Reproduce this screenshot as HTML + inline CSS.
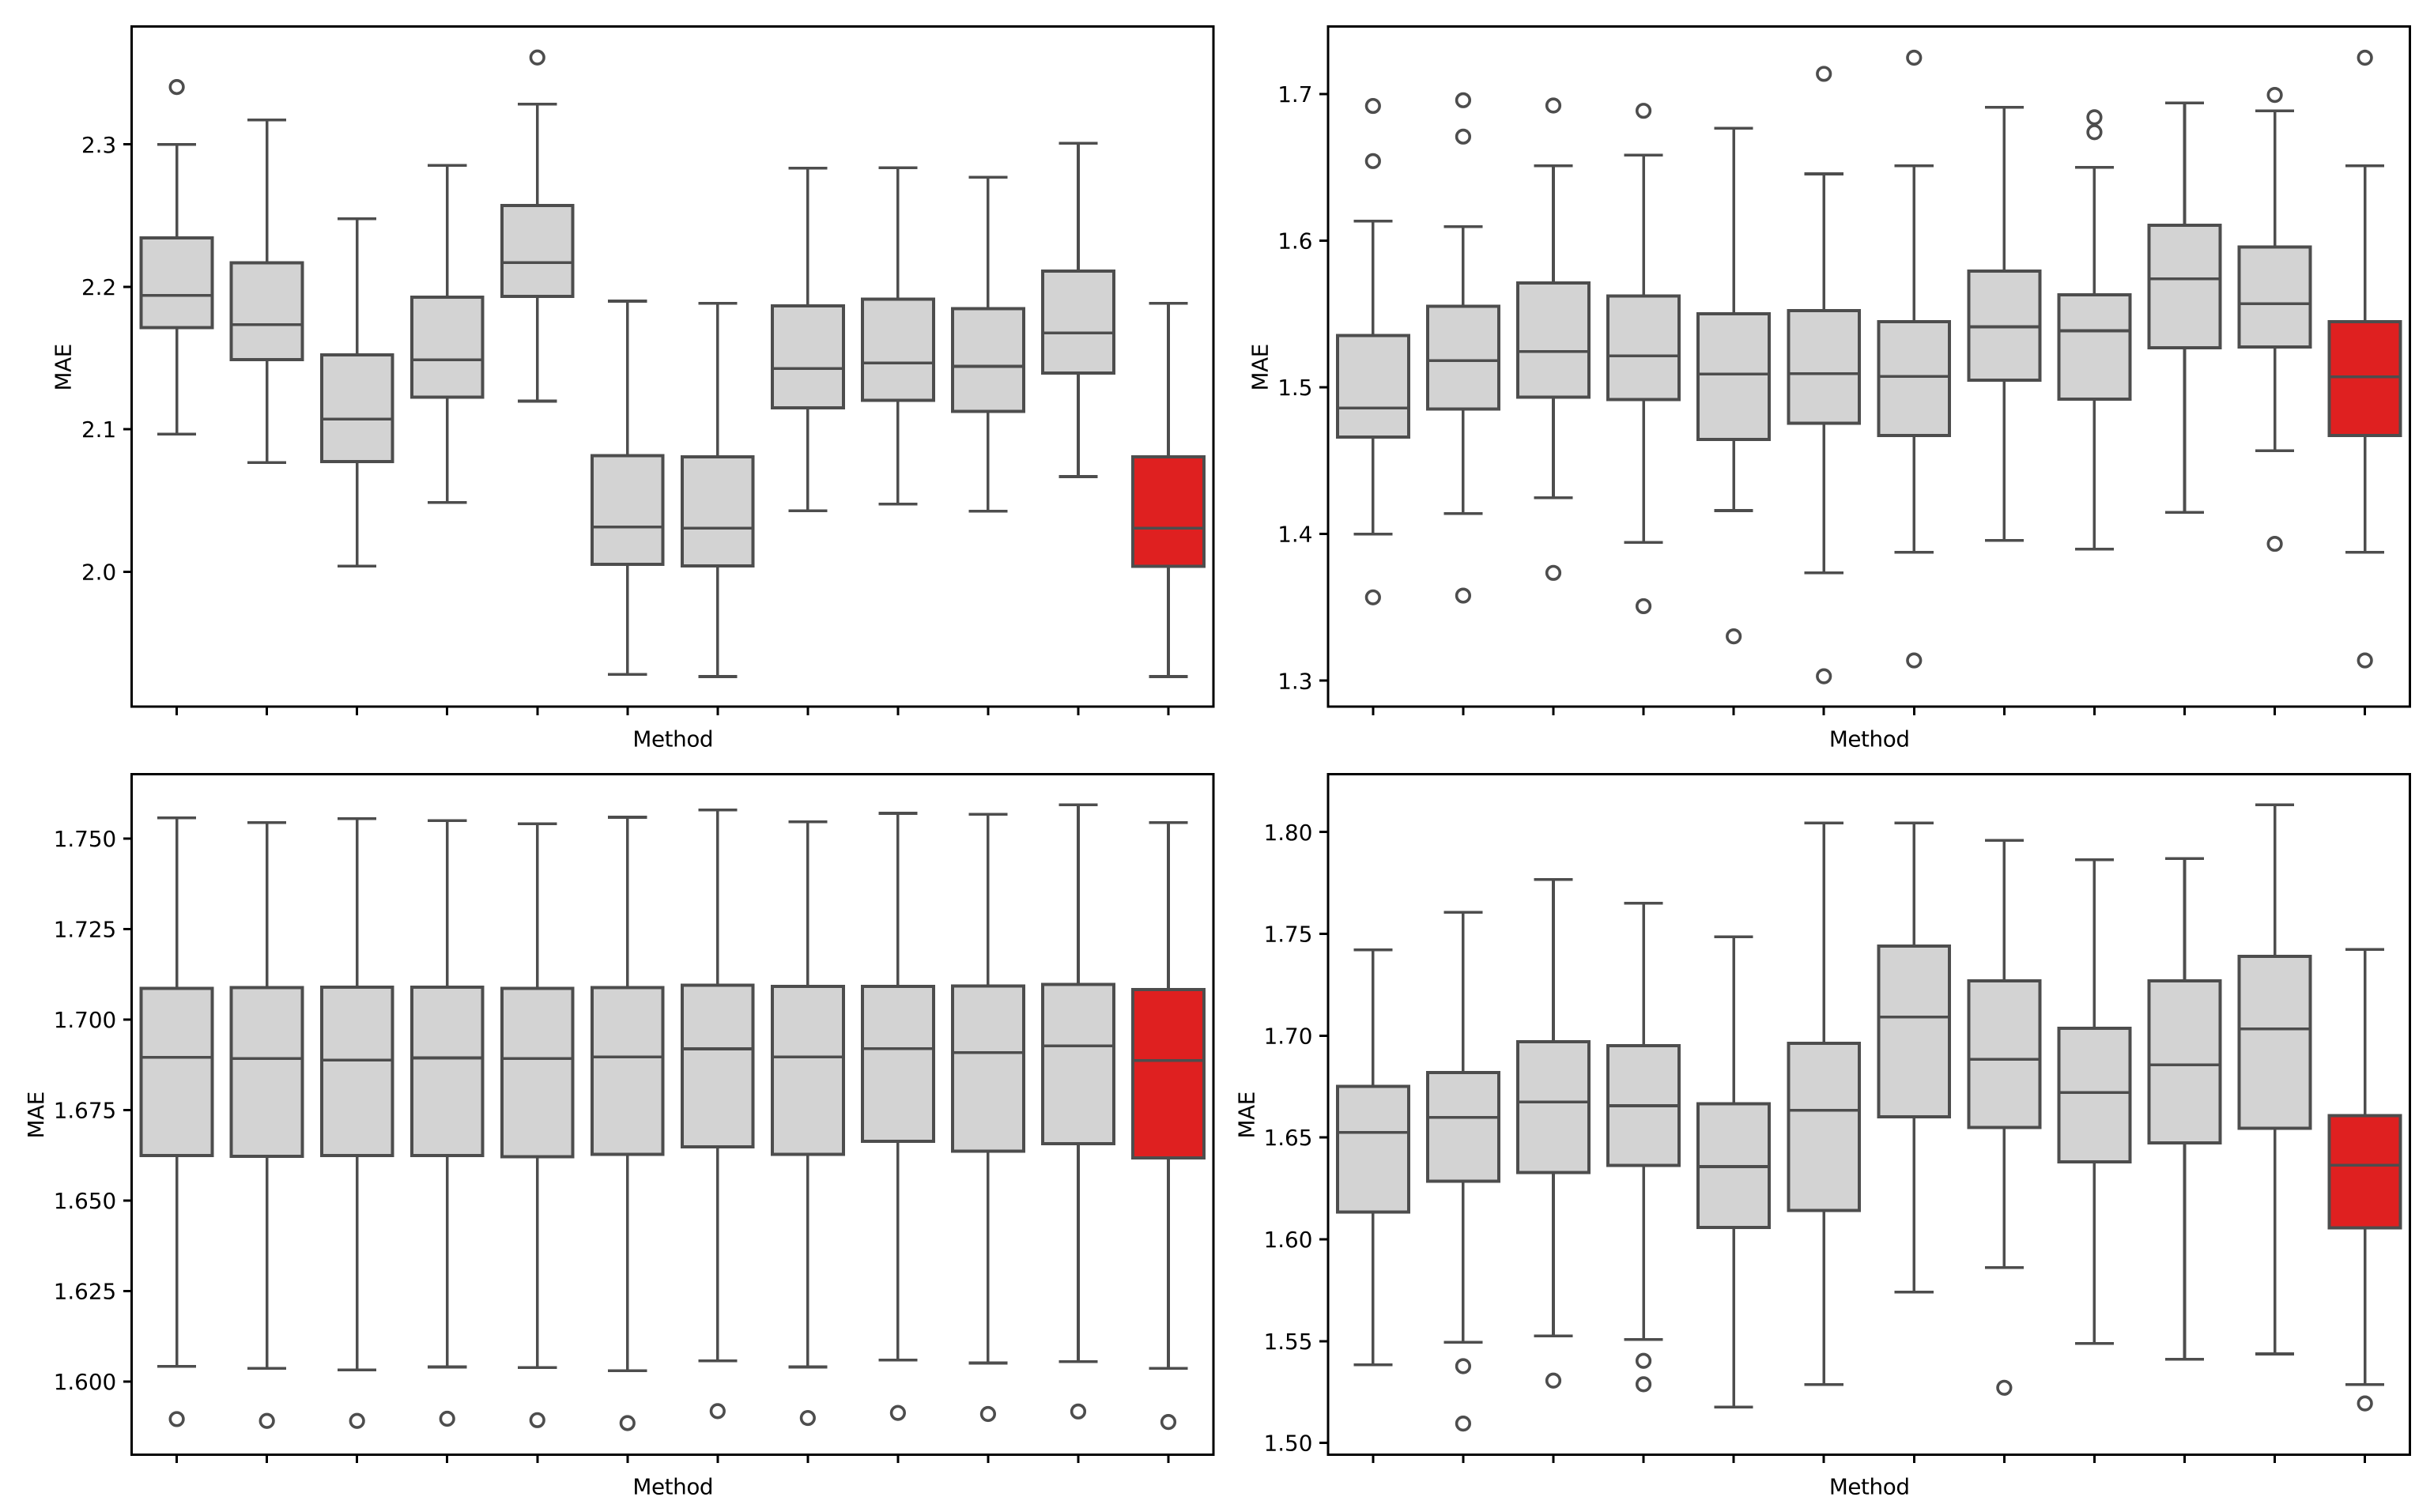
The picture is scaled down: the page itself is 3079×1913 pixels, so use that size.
<!DOCTYPE html>
<html lang="en">
<head>
<meta charset="utf-8">
<title>MAE by Method box plots</title>
<style>
  html, body { margin: 0; padding: 0; background: #ffffff; }
  svg { display: block; }
  text { font-family: "DejaVu Sans", "Liberation Sans", sans-serif; font-size: 27.78px; fill: #000000; }
  .axis-title { letter-spacing: -0.4px; }
</style>
</head>
<body>
<svg id="figure" xmlns="http://www.w3.org/2000/svg" width="3079" height="1913" viewBox="0 0 3079 1913">
  <rect x="0" y="0" width="3079" height="1913" fill="#ffffff"></rect>
  <g id="panel-1">
    <text class="axis-title" x="851.3" y="944.5" text-anchor="middle">Method</text>
    <text class="axis-title" transform="translate(89.5 464.8) rotate(-90)" text-anchor="middle">MAE</text>
  </g>
  <g id="panel-2">
    <text class="axis-title" x="2364.7" y="944.5" text-anchor="middle">Method</text>
    <text class="axis-title" transform="translate(1603.5 464.8) rotate(-90)" text-anchor="middle">MAE</text>
  </g>
  <g id="panel-3">
    <text class="axis-title" x="851.3" y="1890.5" text-anchor="middle">Method</text>
    <text class="axis-title" transform="translate(55 1410.8) rotate(-90)" text-anchor="middle">MAE</text>
  </g>
  <g id="panel-4">
    <text class="axis-title" x="2364.7" y="1890.5" text-anchor="middle">Method</text>
    <text class="axis-title" transform="translate(1586.5 1410.8) rotate(-90)" text-anchor="middle">MAE</text>
  </g>
</svg>
<script>
// ---- Chart data ----
const methods = [1, 2, 3, 4, 5, 6, 7, 8, 9, 10, 11, 12];
const highlightedMethod = 12;

// Top-left panel
const panel1TickLabels = ['2.0', '2.1', '2.2', '2.3'];
const panel1Limits = [1.9052, 2.3828];
const panel1WhiskerLow = [2.0967, 2.0767, 2.0040, 2.0487, 2.1198, 1.9279, 1.9264, 2.0428, 2.0474, 2.0425, 2.0668, 1.9264];
const panel1Q1 = [2.1713, 2.1488, 2.0773, 2.1226, 2.1934, 2.0052, 2.0040, 2.1152, 2.1204, 2.1127, 2.1395, 2.0037];
const panel1Median = [2.1940, 2.1734, 2.1072, 2.1488, 2.2171, 2.0314, 2.0305, 2.1426, 2.1466, 2.1442, 2.1676, 2.0305];
const panel1Q3 = [2.2344, 2.2168, 2.1522, 2.1928, 2.2572, 2.0816, 2.0807, 2.1867, 2.1913, 2.1848, 2.2110, 2.0807];
const panel1WhiskerHigh = [2.3000, 2.3172, 2.2479, 2.2852, 2.3283, 2.1900, 2.1885, 2.2834, 2.2837, 2.2769, 2.3009, 2.1885];
const panel1Outliers = [[2.3403], [], [], [], [2.3610], [], [], [], [], [], [], []];

// Top-right panel
const panel2TickLabels = ['1.3', '1.4', '1.5', '1.6', '1.7'];
const panel2Limits = [1.2822, 1.7461];
const panel2WhiskerLow = [1.3999, 1.4139, 1.4247, 1.3942, 1.4160, 1.3735, 1.3876, 1.3957, 1.3897, 1.4148, 1.4567, 1.3876];
const panel2Q1 = [1.4662, 1.4851, 1.4934, 1.4916, 1.4644, 1.4755, 1.4671, 1.5048, 1.4919, 1.5269, 1.5275, 1.4671];
const panel2Median = [1.4859, 1.5182, 1.5245, 1.5215, 1.5090, 1.5093, 1.5075, 1.5413, 1.5386, 1.5741, 1.5571, 1.5072];
const panel2Q3 = [1.5353, 1.5553, 1.5712, 1.5622, 1.5502, 1.5523, 1.5448, 1.5792, 1.5631, 1.6106, 1.5957, 1.5448];
const panel2WhiskerHigh = [1.6133, 1.6097, 1.6510, 1.6584, 1.6767, 1.6456, 1.6510, 1.6910, 1.6501, 1.6940, 1.6886, 1.6510];
const panel2Outliers = [
  [1.6919, 1.6543, 1.3568], [1.6958, 1.6710, 1.3580], [1.6922, 1.3735], [1.6886, 1.3508],
  [1.3302], [1.7138, 1.3030], [1.7248, 1.3138], [],
  [1.6842, 1.6740], [], [1.6994, 1.3933], [1.7248, 1.3138]
];

// Bottom-left panel
const panel3TickLabels = ['1.600', '1.625', '1.650', '1.675', '1.700', '1.725', '1.750'];
const panel3Limits = [1.5798, 1.7678];
const panel3WhiskerLow = [1.6042, 1.6036, 1.6032, 1.6040, 1.6038, 1.6030, 1.6057, 1.6040, 1.6059, 1.6051, 1.6055, 1.6036];
const panel3Q1 = [1.6624, 1.6622, 1.6624, 1.6624, 1.6621, 1.6627, 1.6648, 1.6628, 1.6663, 1.6636, 1.6657, 1.6618];
const panel3Median = [1.6896, 1.6892, 1.6888, 1.6894, 1.6892, 1.6897, 1.6919, 1.6897, 1.6920, 1.6909, 1.6927, 1.6887];
const panel3Q3 = [1.7086, 1.7088, 1.7089, 1.7089, 1.7086, 1.7088, 1.7095, 1.7092, 1.7092, 1.7093, 1.7097, 1.7083];
const panel3WhiskerHigh = [1.7557, 1.7544, 1.7555, 1.7550, 1.7541, 1.7559, 1.7579, 1.7546, 1.7570, 1.7567, 1.7593, 1.7544];
const panel3Outliers = [[1.5896], [1.5891], [1.5891], [1.5897], [1.5893], [1.5885], [1.5918], [1.5899], [1.5913], [1.5910], [1.5917], [1.5888]];

// Bottom-right panel
const panel4TickLabels = ['1.50', '1.55', '1.60', '1.65', '1.70', '1.75', '1.80'];
const panel4Limits = [1.4943, 1.8284];
const panel4WhiskerLow = [1.5383, 1.5495, 1.5525, 1.5508, 1.5176, 1.5286, 1.5741, 1.5861, 1.5489, 1.5411, 1.5437, 1.5286];
const panel4Q1 = [1.6133, 1.6286, 1.6327, 1.6363, 1.6059, 1.6141, 1.6602, 1.6550, 1.6380, 1.6473, 1.6546, 1.6057];
const panel4Median = [1.6525, 1.6598, 1.6675, 1.6656, 1.6357, 1.6634, 1.7091, 1.6884, 1.6721, 1.6856, 1.7033, 1.6363];
const panel4Q3 = [1.6751, 1.6818, 1.6970, 1.6951, 1.6665, 1.6962, 1.7440, 1.7270, 1.7037, 1.7270, 1.7390, 1.6607];
const panel4WhiskerHigh = [1.7421, 1.7606, 1.7767, 1.7651, 1.7485, 1.8045, 1.8045, 1.7959, 1.7864, 1.7869, 1.8134, 1.7423];
const panel4Outliers = [[], [1.5377, 1.5095], [1.5306], [1.5403, 1.5288], [], [], [], [1.5271], [], [], [], [1.5194]];

// ---- Layout and style ----
const LEFT_COLUMN = { left: 166.6, right: 1535 };
const RIGHT_COLUMN = { left: 1679.8, right: 3048.7 };
const TOP_ROW = { top: 33.5, bottom: 894.2 };
const BOTTOM_ROW = { top: 979.5, bottom: 1840.3 };
const INK = '#4d4d4d';
const BOX_FILL = '#d3d3d3';
const HIGHLIGHT_FILL = '#df2020';
const LINE_WIDTH = 3.6;
const BOX_LINE_WIDTH = 4;
const SPINE_WIDTH = 3;
const TICK_LENGTH = 9.7;
const TICK_PAD = 9.7;
const BOX_HALF_SHARE = 44.9 / 114.03;
const CAP_HALF_SHARE = 24.55 / 114.03;
const FLIER_RADIUS = 8.3;

const SVG_NS = 'http://www.w3.org/2000/svg';

function make(tag, attrs, parent) {
  const el = document.createElementNS(SVG_NS, tag);
  Object.keys(attrs).forEach(function (k) { el.setAttribute(k, attrs[k]); });
  parent.appendChild(el);
  return el;
}

function drawPanel(id, col, row, limits, tickLabels, low, q1, median, q3, high, outliers) {
  const panel = document.getElementById(id);
  const band = (col.right - col.left) / methods.length;
  const xScale = function (i) { return col.left + band * (i + 0.5); };
  const yScale = function (v) {
    return row.bottom - (v - limits[0]) / (limits[1] - limits[0]) * (row.bottom - row.top);
  };

  methods.forEach(function (method, i) {
    const x = xScale(i);
    const halfBox = band * BOX_HALF_SHARE;
    const halfCap = band * CAP_HALF_SHARE;

    const group = make('g', {}, panel);
    
    

    const lowerWhisker = make('line', { x1: x, x2: x, y1: yScale(q1[i]), y2: yScale(low[i]), stroke: INK, 'stroke-width': LINE_WIDTH, 'shape-rendering': 'crispEdges' }, group);
    
    

    const upperWhisker = make('line', { x1: x, x2: x, y1: yScale(q3[i]), y2: yScale(high[i]), stroke: INK, 'stroke-width': LINE_WIDTH, 'shape-rendering': 'crispEdges' }, group);
    
    

    const lowerCap = make('line', { x1: x - halfCap, x2: x + halfCap, y1: yScale(low[i]), y2: yScale(low[i]), stroke: INK, 'stroke-width': LINE_WIDTH, 'shape-rendering': 'crispEdges' }, group);
    
    

    const upperCap = make('line', { x1: x - halfCap, x2: x + halfCap, y1: yScale(high[i]), y2: yScale(high[i]), stroke: INK, 'stroke-width': LINE_WIDTH, 'shape-rendering': 'crispEdges' }, group);
    
    

    const box = make('rect', {
      x: x - halfBox,
      y: yScale(q3[i]),
      width: halfBox * 2,
      height: yScale(q1[i]) - yScale(q3[i]),
      fill: method === highlightedMethod ? HIGHLIGHT_FILL : BOX_FILL,
      stroke: INK,
      'stroke-width': BOX_LINE_WIDTH,
      'shape-rendering': 'crispEdges'
    }, group);
    
    

    const medianLine = make('line', { x1: x - halfBox, x2: x + halfBox, y1: yScale(median[i]), y2: yScale(median[i]), stroke: INK, 'stroke-width': LINE_WIDTH, 'shape-rendering': 'crispEdges' }, group);
    
    

    outliers[i].forEach(function (value) {
      const flier = make('circle', { cx: x, cy: yScale(value), r: FLIER_RADIUS, fill: 'none', stroke: INK, 'stroke-width': LINE_WIDTH }, group);
      
      
    });

    const xTick = make('line', { x1: x, x2: x, y1: row.bottom, y2: row.bottom + TICK_LENGTH + 1, stroke: '#000000', 'stroke-width': SPINE_WIDTH, 'shape-rendering': 'crispEdges' }, panel);
    
    
  });

  tickLabels.forEach(function (label) {
    const y = yScale(parseFloat(label));

    const yTick = make('line', { x1: col.left - TICK_LENGTH - 1, x2: col.left, y1: y, y2: y, stroke: '#000000', 'stroke-width': SPINE_WIDTH, 'shape-rendering': 'crispEdges' }, panel);
    
    

    const yLabel = make('text', { x: col.left - TICK_LENGTH - TICK_PAD, y: y + 10.1, 'text-anchor': 'end' }, panel);
    yLabel.textContent = label;
    
    
  });

  const frame = make('rect', { x: col.left, y: row.top, width: col.right - col.left, height: row.bottom - row.top, fill: 'none', stroke: '#000000', 'stroke-width': SPINE_WIDTH, 'shape-rendering': 'crispEdges' }, panel);
  
  
}

drawPanel('panel-1', LEFT_COLUMN, TOP_ROW, panel1Limits, panel1TickLabels, panel1WhiskerLow, panel1Q1, panel1Median, panel1Q3, panel1WhiskerHigh, panel1Outliers);
drawPanel('panel-2', RIGHT_COLUMN, TOP_ROW, panel2Limits, panel2TickLabels, panel2WhiskerLow, panel2Q1, panel2Median, panel2Q3, panel2WhiskerHigh, panel2Outliers);
drawPanel('panel-3', LEFT_COLUMN, BOTTOM_ROW, panel3Limits, panel3TickLabels, panel3WhiskerLow, panel3Q1, panel3Median, panel3Q3, panel3WhiskerHigh, panel3Outliers);
drawPanel('panel-4', RIGHT_COLUMN, BOTTOM_ROW, panel4Limits, panel4TickLabels, panel4WhiskerLow, panel4Q1, panel4Median, panel4Q3, panel4WhiskerHigh, panel4Outliers);
</script>
</body>
</html>
